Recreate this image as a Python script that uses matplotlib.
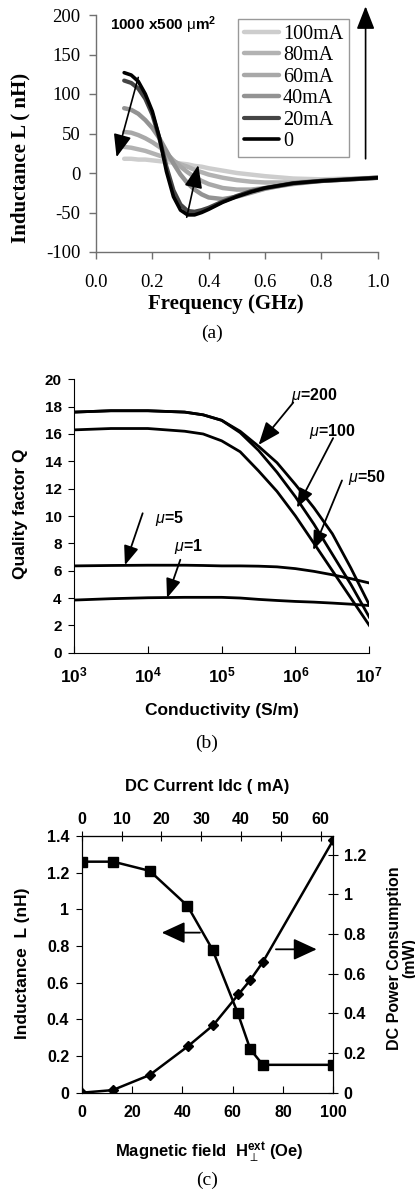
import matplotlib
matplotlib.use('Agg')
import matplotlib.pyplot as plt

plt.rcParams['mathtext.fontset'] = 'custom'
plt.rcParams['mathtext.rm'] = 'Liberation Sans'
plt.rcParams['mathtext.bf'] = 'Liberation Sans:bold'
plt.rcParams['mathtext.it'] = 'Liberation Sans:italic'
plt.rcParams['mathtext.sf'] = 'Liberation Sans'
plt.rcParams['mathtext.fallback'] = 'stixsans'

SERIF = 'Liberation Serif'
SANS = 'Liberation Sans'

# ---------------- Panel (a) data ----------------
freq_ghz = [0.10, 0.125, 0.15, 0.175, 0.20, 0.225, 0.25, 0.275, 0.30, 0.325, 0.35,
            0.375, 0.40, 0.45, 0.50, 0.55, 0.60, 0.70, 0.80, 0.90, 1.00]
L_0mA   = [127, 124, 116, 100, 78, 45, 2, -30, -47, -53, -53, -50, -46, -37, -30, -24, -19, -13, -10, -8, -6]
L_20mA  = [117, 114, 107, 94, 74, 44, 8, -22, -40, -48, -49, -47, -44, -36, -29, -23, -19, -13, -10, -8, -6]
L_40mA  = [82, 80, 75, 67, 57, 44, 28, 12, -2, -13, -21, -27, -31, -33, -30, -25, -20, -13, -10, -8, -6]
L_60mA  = [52, 51, 48, 44, 39, 33, 25, 16, 8, 1, -5, -10, -14, -19, -21, -21, -19, -14, -10, -8, -6]
L_80mA  = [33, 32, 30, 28, 25, 22, 19, 15, 11, 8, 4, 1, -2, -6, -9, -11, -12, -12, -10, -8, -6]
L_100mA = [18, 18, 17, 17, 16, 15, 14, 13, 12, 11, 9, 8, 6, 3, 0, -2, -4, -7, -8, -7, -6]
a_labels = ['100mA', '80mA', '60mA', '40mA', '20mA', '0']
a_yticks = [200, 150, 100, 50, 0, -50, -100]
a_xticks = [0.0, 0.2, 0.4, 0.6, 0.8, 1.0]

# ---------------- Panel (b) data ----------------
conductivity = [1e3, 3.16e3, 1e4, 3.16e4, 5.62e4, 1e5, 1.78e5, 3.16e5, 5.62e5,
                1e6, 1.78e6, 3.16e6, 5.62e6, 1e7]
Q_mu200 = [17.6, 17.7, 17.7, 17.6, 17.4, 17.0, 16.2, 15.1, 13.9, 12.3, 10.6, 8.7, 6.2, 3.5]
Q_mu100 = [17.6, 17.7, 17.7, 17.6, 17.4, 17.0, 16.1, 14.8, 13.2, 11.4, 9.4, 7.2, 5.0, 2.6]
Q_mu50  = [16.3, 16.4, 16.4, 16.2, 16.0, 15.5, 14.7, 13.3, 11.8, 10.0, 8.0, 6.0, 4.0, 2.0]
Q_mu5   = [6.35, 6.38, 6.4, 6.4, 6.38, 6.35, 6.35, 6.33, 6.28, 6.15, 5.95, 5.7, 5.42, 5.1]
Q_mu1   = [3.85, 3.95, 4.02, 4.05, 4.05, 4.05, 4.0, 3.9, 3.82, 3.75, 3.7, 3.63, 3.55, 3.45]
b_yticks = [0, 2, 4, 6, 8, 10, 12, 14, 16, 18, 20]
b_xticks = [1e3, 1e4, 1e5, 1e6, 1e7]

# ---------------- Panel (c) data ----------------
field_L = [0, 12.5, 27, 42, 52, 62, 67, 72, 100]
induct_nH = [1.26, 1.26, 1.21, 1.02, 0.78, 0.435, 0.237, 0.152, 0.152]
field_P = [0, 12.3, 27, 42.3, 52.3, 62.3, 67, 72, 100]
power_mW = [0.0, 0.013, 0.089, 0.235, 0.341, 0.496, 0.568, 0.659, 1.275]
c_xticks = [0, 20, 40, 60, 80, 100]
c_lticks = [0, 0.2, 0.4, 0.6, 0.8, 1.0, 1.2, 1.4]
c_lticklabels = ['0', '0.2', '0.4', '0.6', '0.8', '1', '1.2', '1.4']
c_rticks = [0, 0.2, 0.4, 0.6, 0.8, 1.0, 1.2]
c_rticklabels = ['0', '0.2', '0.4', '0.6', '0.8', '1', '1.2']
c_topticks = [0, 10, 20, 30, 40, 50, 60]
current_per_oe = 63.2 / 100.0

W, H = 415, 1190
fig = plt.figure(figsize=(W / 100, H / 100), dpi=100)


def fx(px):
    return px / W


def fy(py):
    return 1 - py / H


def arrow(ax, tail, head, hl, hw, lw=1.2, ms=10, **kw):
    ax.annotate('', xy=head, xytext=tail, annotation_clip=False,
                arrowprops=dict(arrowstyle='-|>,head_length=%g,head_width=%g' % (hl, hw),
                                color='black', lw=lw, shrinkA=0, shrinkB=0,
                                mutation_scale=ms), **kw)


# =============== Panel (a) ===============
axa = fig.add_axes([fx(96), fy(252), fx(377.7) - fx(96), fy(15) - fy(252)])
styles = [
    (L_100mA, '#cdcdcd', 3.2),
    (L_80mA, '#b2b2b2', 3.2),
    (L_60mA, '#a8a8a8', 3.2),
    (L_40mA, '#939393', 3.2),
    (L_20mA, '#454545', 3.0),
    (L_0mA, '#000000', 2.6),
]
handles = []
for (vals, col, lw), lab in zip(styles, a_labels):
    h, = axa.plot(freq_ghz, vals, color=col, lw=lw, label=lab, solid_capstyle='round')
    handles.append(h)
axa.set_xlim(0, 1.0)
axa.set_ylim(-100, 200)
axa.set_xticks(a_xticks)
axa.set_xticklabels(['%.1f' % v for v in a_xticks], family=SERIF, fontsize=13.5)
axa.set_yticks(a_yticks)
axa.set_yticklabels([str(v) for v in a_yticks], family=SERIF, fontsize=13.5)
for s in ['top', 'right']:
    axa.spines[s].set_visible(False)
for s in ['left', 'bottom']:
    axa.spines[s].set_color('#707070')
    axa.spines[s].set_linewidth(1.0)
axa.tick_params(axis='both', direction='out', length=5, color='#707070', width=1.0)
axa.tick_params(axis='x', pad=11)
axa.tick_params(axis='y', pad=6)
leg = axa.legend(handles=handles, loc='upper left', bbox_to_anchor=(0.503, 0.985),
                 prop={'family': SERIF, 'size': 14.5}, frameon=True, fancybox=False,
                 edgecolor='#808080', handlelength=1.75, handletextpad=0.2,
                 labelspacing=0.12, borderpad=0.3, borderaxespad=0)
leg.get_frame().set_linewidth(1.0)
axa.text(0.05, 0.955, r'1000 x500 $\mathrm{\mu}$m$^{\mathbf{2}}$', transform=axa.transAxes,
         family=SANS, fontweight='bold', fontsize=11, ha='left', va='center')
arrow(axa, (0.150, 121), (0.073, 20), 1.4, 0.55, lw=1.2, ms=10)
arrow(axa, (0.322, -56), (0.363, 10), 1.4, 0.55, lw=1.2, ms=10)
arrow(axa, (0.957, 18), (0.957, 211), 1.4, 0.55, lw=1.2, ms=10)
fig.text(fx(20), fy(158), 'Inductance L ( nH)', rotation=90, family=SERIF, fontweight='bold',
         fontsize=15, ha='center', va='center')
fig.text(fx(226), fy(304), 'Frequency (GHz)', family=SERIF, fontweight='bold',
         fontsize=15, ha='center', va='center')
fig.text(fx(212), fy(333), '(a)', family=SERIF, fontsize=14, ha='center', va='center')

# =============== Panel (b) ===============
axb = fig.add_axes([fx(74), fy(652.7), fx(369.3) - fx(74), fy(379.3) - fy(652.7)])
for vals in [Q_mu200, Q_mu100, Q_mu50, Q_mu5, Q_mu1]:
    axb.plot(conductivity, vals, color='black', lw=2.0)
axb.set_xscale('log')
axb.set_xlim(1e3, 1e7)
axb.set_ylim(0, 20)
axb.minorticks_off()
axb.set_xticks(b_xticks)
axb.set_xticklabels([r'$\mathbf{10^{%d}}$' % e for e in [3, 4, 5, 6, 7]], fontsize=12.5)
axb.set_yticks(b_yticks)
axb.set_yticklabels([str(v) for v in b_yticks], family=SANS, fontweight='bold', fontsize=11)
for s in ['top', 'right']:
    axb.spines[s].set_visible(False)
axb.tick_params(axis='x', direction='in', length=5, pad=10)
axb.tick_params(axis='y', direction='out', length=4, pad=5)
mu_txt = dict(family=SANS, fontweight='bold', fontsize=11.5, ha='center', va='center')
axb.text(10 ** 6.25, 18.8, r'$\mu$=200', **mu_txt)
arrow(axb, (10 ** 5.97, 18.3), (10 ** 5.50, 15.2), 1.4, 0.55, lw=1.3, ms=10)
axb.text(10 ** 6.50, 16.2, r'$\mu$=100', **mu_txt)
arrow(axb, (10 ** 6.51, 15.7), (10 ** 6.02, 10.6), 1.3, 0.5, lw=1.3, ms=9)
axb.text(10 ** 6.97, 12.8, r'$\mu$=50', **mu_txt)
arrow(axb, (10 ** 6.63, 12.6), (10 ** 6.24, 7.5), 1.3, 0.5, lw=1.3, ms=9)
axb.text(10 ** 4.30, 9.8, r'$\mu$=5', **mu_txt)
arrow(axb, (10 ** 3.93, 10.2), (10 ** 3.69, 6.4), 1.3, 0.5, lw=1.3, ms=9)
axb.text(10 ** 4.55, 7.8, r'$\mu$=1', **mu_txt)
arrow(axb, (10 ** 4.44, 6.8), (10 ** 4.26, 4.0), 1.3, 0.5, lw=1.3, ms=9)
fig.text(fx(20), fy(514), 'Quality factor Q', rotation=90, family=SANS, fontweight='bold',
         fontsize=12.5, ha='center', va='center')
fig.text(fx(222), fy(711), 'Conductivity (S/m)', family=SANS, fontweight='bold',
         fontsize=12.5, ha='center', va='center')
fig.text(fx(207), fy(743), '(b)', family=SERIF, fontsize=14, ha='center', va='center')

# =============== Panel (c) ===============
axc = fig.add_axes([fx(81.7), fy(1092.7), fx(333.3) - fx(81.7), fy(836) - fy(1092.7)])
axc.plot(field_L, induct_nH, color='black', lw=1.8, marker='s', markersize=7, zorder=3)
axc.set_xlim(0, 100)
axc.set_ylim(0, 1.4)
axc.set_xticks(c_xticks)
axc.set_xticklabels([str(v) for v in c_xticks], family=SANS, fontweight='bold', fontsize=11.5)
axc.set_yticks(c_lticks)
axc.set_yticklabels(c_lticklabels, family=SANS, fontweight='bold', fontsize=11.5)
axc.tick_params(axis='x', direction='in', length=5, pad=9)
axc.tick_params(axis='y', direction='out', length=4, pad=5)
axc2 = axc.twinx()
axc2.plot(field_P, power_mW, color='black', lw=1.8, marker='D', markersize=5, zorder=3)
axc2.set_ylim(0, 1.295)
axc2.set_yticks(c_rticks)
axc2.set_yticklabels(c_rticklabels, family=SANS, fontweight='bold', fontsize=11.5)
axc2.tick_params(axis='y', direction='inout', length=7, pad=4)
top = axc.secondary_xaxis('top', functions=(lambda x: x * current_per_oe,
                                             lambda x: x / current_per_oe))
top.set_xticks(c_topticks)
top.set_xticklabels([str(v) for v in c_topticks], family=SANS, fontweight='bold', fontsize=11.5)
top.tick_params(axis='x', direction='inout', length=7, pad=3)
arrow(axc, (47.0, 0.873), (31.8, 0.873), 1.3, 0.6, lw=1.3, ms=11)
arrow(axc, (77.2, 0.782), (93.4, 0.782), 1.3, 0.6, lw=1.3, ms=11)
fig.text(fx(23), fy(963), 'Inductance  L (nH)', rotation=90, family=SANS, fontweight='bold',
         fontsize=12.5, ha='center', va='center')
fig.text(fx(402), fy(958), 'DC Power Consumption\n(mW)', rotation=90, family=SANS,
         fontweight='bold', fontsize=11.5, ha='center', va='center', linespacing=1.0,
         multialignment='center')
fig.text(fx(207), fy(787), 'DC Current Idc ( mA)', family=SANS, fontweight='bold',
         fontsize=12, ha='center', va='center')
fig.text(fx(209), fy(1153), r'Magnetic field  H$_{\perp}^{\mathbf{ext}}$ (Oe)', family=SANS,
         fontweight='bold', fontsize=12, ha='center', va='center')
fig.text(fx(207), fy(1180), '(c)', family=SERIF, fontsize=14, ha='center', va='center')

fig.savefig('out.png', dpi=100)
